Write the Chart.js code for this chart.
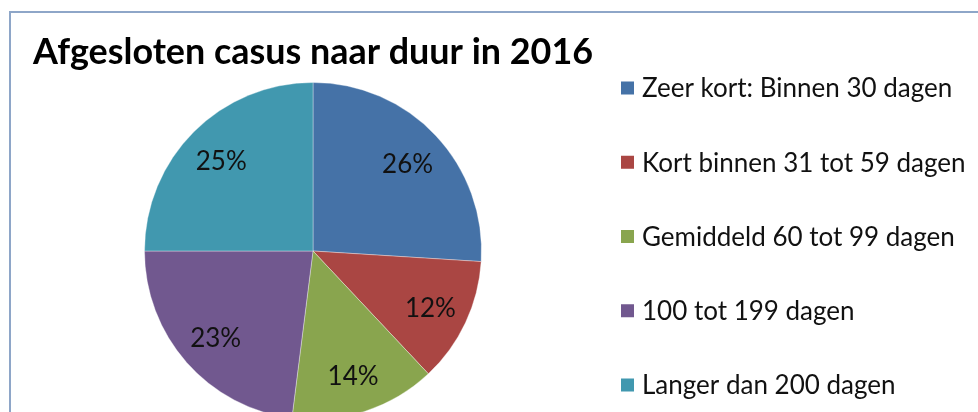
<!DOCTYPE html>
<html>
<head>
<meta charset="utf-8">
<script src="https://cdn.jsdelivr.net/npm/chart.js@4"></script>
<style>
  html, body { margin: 0; padding: 0; background: #fff; }
  #wrap { width: 978px; height: 412px; }
</style>
</head>
<body>
<div id="wrap"><canvas id="duurPie" width="978" height="412"></canvas></div>
<script>
// categorieën en waarden (percentages)
const categorieen = [
    'Zeer kort: Binnen 30 dagen',
    'Kort binnen 31 tot 59 dagen',
    'Gemiddeld 60 tot 99 dagen',
    '100 tot 199 dagen',
    'Langer dan 200 dagen'
];
const percentages = [26, 12, 14, 23, 25];
const kleuren = ['#4572A7', '#AA4643', '#89A54E', '#71588F', '#4198AF'];
const titel = 'Afgesloten casus naar duur in 2016';

// kader links/boven zoals in het origineel
const kaderPlugin = {
    id: 'kader',
    beforeDraw(chart) {
        const ctx = chart.ctx;
        ctx.save();
        ctx.strokeStyle = '#8ea6c8';
        ctx.lineWidth = 2;
        ctx.beginPath();
        ctx.moveTo(10, chart.height + 5);
        ctx.lineTo(10, 12);
        ctx.lineTo(chart.width + 5, 12);
        ctx.stroke();
        ctx.restore();
    }
};

// percentage labels in de taartpunten
const labelPlugin = {
    id: 'pctLabels',
    afterDatasetsDraw(chart) {
        const ctx = chart.ctx;
        const meta = chart.getDatasetMeta(0);
        ctx.save();
        ctx.font = '26px Lato';
        ctx.fillStyle = '#111';
        ctx.textAlign = 'center';
        ctx.textBaseline = 'middle';
        meta.data.forEach((arc, i) => {
            const p = arc.getProps(['x', 'y', 'startAngle', 'endAngle', 'outerRadius'], true);
            const mid = (p.startAngle + p.endAngle) / 2;
            const r = p.outerRadius * 0.77;
            ctx.fillText(chart.data.datasets[0].data[i] + '%', p.x + Math.cos(mid) * r, p.y + Math.sin(mid) * r + 2);
        });
        ctx.restore();
    }
};

// legenda rechts, eigen tekening
const legendaPlugin = {
    id: 'legenda',
    afterDraw(chart) {
        const ctx = chart.ctx;
        const area = chart.chartArea;
        const x0 = area.right + 28;
        const yMid = (area.top + area.bottom) / 2 - 14.5;
        const stap = 74.25;
        ctx.save();
        ctx.font = '26px Lato';
        ctx.textBaseline = 'middle';
        ctx.textAlign = 'left';
        chart.data.labels.forEach((lbl, i) => {
            const y = yMid + (i - 2) * stap;
            ctx.fillStyle = chart.data.datasets[0].backgroundColor[i];
            ctx.fillRect(x0, y - 6.5, 13, 13);
            ctx.fillStyle = '#111';
            ctx.fillText(lbl, x0 + 21, y + 1);
        });
        ctx.restore();
    }
};

new Chart(document.getElementById('duurPie'), {
    type: 'pie',
    data: {
        labels: categorieen,
        datasets: [{
            data: percentages,
            backgroundColor: kleuren,
            borderColor: 'rgba(255,255,255,0.35)',
            borderWidth: 1
        }]
    },
    options: {
        responsive: false,
        animation: false,
        radius: 168.5,
        layout: {
            padding: { left: 33, right: 385, top: 0, bottom: 0 }
        },
        plugins: {
            legend: { display: false },
            tooltip: { enabled: false },
            title: {
                display: true,
                text: titel,
                align: 'start',
                color: '#000',
                font: { family: 'Lato', size: 36, weight: 'bold', lineHeight: 1.2 },
                padding: { top: 31, bottom: 15.8 }
            }
        }
    },
    plugins: [kaderPlugin, labelPlugin, legendaPlugin]
});
</script>
</body>
</html>
